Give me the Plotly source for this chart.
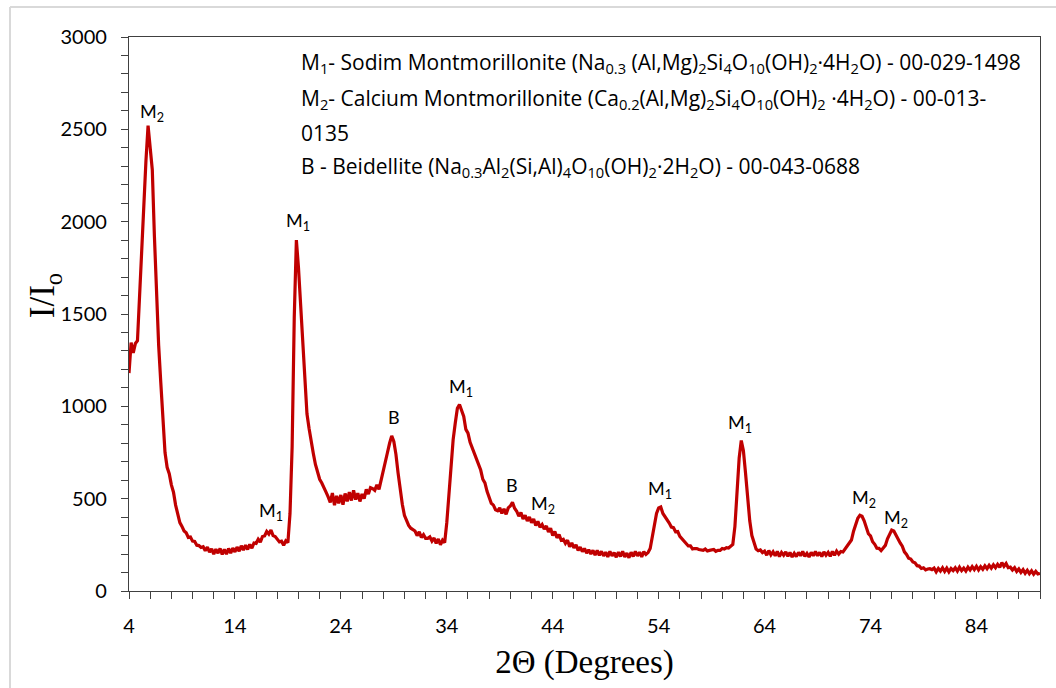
import plotly.graph_objects as go

# XRD scan: 2-theta from 4.0 to 90.0 deg, step 0.2 deg
scan_start = 4.0
scan_step = 0.2
intensity = [
    # 4
    1180, 1345, 1290, 1340, 1355,
    # 5
    1620, 1880, 2080, 2330, 2520,
    # 6
    2380, 2280, 1920, 1600, 1330,
    # 7
    1130, 900, 750, 670, 635,
    # 8
    575, 535, 465, 425, 370,
    # 9
    350, 325, 315, 290, 292,
    # 10
    270, 268, 248, 246, 236,
    # 11
    240, 218, 238, 210, 228,
    # 12
    200, 226, 205, 230, 198,
    # 13
    225, 200, 230, 205, 232,
    # 14
    212, 238, 215, 245, 222,
    # 15
    248, 225, 252, 232, 260,
    # 16
    258, 280, 265, 295, 298,
    # 17
    322, 308, 330, 300, 295,
    # 18
    280, 266, 270, 248, 272,
    # 19
    262, 420, 780, 1480, 1900,
    # 20
    1750, 1560, 1300, 1110, 960,
    # 21
    880, 800, 745, 685, 645,
    # 22
    605, 585, 555, 535, 510,
    # 23
    480, 530, 465, 515, 475,
    # 24
    520, 468, 528, 485, 535,
    # 25
    490, 545, 495, 530, 485,
    # 26
    525, 500, 550, 525, 560,
    # 27
    555, 545, 575, 550, 605,
    # 28
    660, 700, 750, 800, 840,
    # 29
    810, 740, 640, 550, 470,
    # 30
    410, 380, 355, 340, 330,
    # 31
    325, 300, 320, 290, 305,
    # 32
    285, 285, 293, 270, 287,
    # 33
    258, 282, 250, 275, 262,
    # 34
    370, 520, 680, 820, 910,
    # 35
    990, 1010, 975, 945, 875,
    # 36
    855, 805, 775, 740, 710,
    # 37
    675, 655, 605, 585, 540,
    # 38
    510, 475, 465, 440, 435,
    # 39
    450, 420, 445, 415, 450,
    # 40
    460, 480, 448, 432, 405,
    # 41
    425, 390, 410, 380, 400,
    # 42
    370, 390, 355, 377, 345,
    # 43
    360, 335, 352, 320, 340,
    # 44
    300, 322, 288, 305, 275,
    # 45
    280, 258, 275, 240, 260,
    # 46
    233, 250, 220, 237, 213,
    # 47
    230, 205, 223, 200, 220,
    # 48
    195, 220, 193, 215, 190,
    # 49
    210, 185, 215, 190, 207,
    # 50
    183, 210, 187, 215, 185,
    # 51
    205, 180, 210, 187, 215,
    # 52
    190, 210, 185, 213, 198,
    # 53
    208, 230, 290, 360, 420,
    # 54
    450, 455, 420, 405, 385,
    # 55
    368, 346, 343, 321, 322,
    # 56
    296, 284, 266, 259, 244,
    # 57
    244, 228, 230, 230, 225,
    # 58
    223, 220, 227, 217, 220,
    # 59
    223, 225, 215, 220, 220,
    # 60
    230, 227, 235, 233, 240,
    # 61
    252, 350, 560, 720, 815,
    # 62
    760, 640, 500, 380, 300,
    # 63
    258, 227, 218, 222, 208,
    # 64
    216, 194, 219, 196, 212,
    # 65
    191, 214, 186, 209, 194,
    # 66
    212, 188, 209, 184, 204,
    # 67
    186, 209, 191, 214, 188,
    # 68
    204, 184, 209, 191, 214,
    # 69
    191, 209, 186, 212, 194,
    # 70
    209, 188, 214, 194, 216,
    # 71
    200, 214, 211, 229, 246,
    # 72
    264, 276, 324, 356, 394,
    # 73
    410, 405, 380, 340, 310,
    # 74
    298, 267, 253, 232, 231,
    # 75
    219, 233, 247, 283, 307,
    # 76
    330, 325, 300, 280, 260,
    # 77
    243, 212, 198, 177, 173,
    # 78
    157, 153, 137, 135, 122,
    # 79
    126, 114, 119, 121, 116,
    # 80
    124, 104, 122, 108, 126,
    # 81
    106, 124, 104, 122, 111,
    # 82
    126, 108, 129, 111, 124,
    # 83
    108, 129, 114, 132, 116,
    # 84
    134, 114, 132, 118, 136,
    # 85
    121, 139, 124, 142, 126,
    # 86
    144, 128, 154, 134, 149,
    # 87
    126, 129, 114, 126, 106,
    # 88
    119, 101, 116, 96, 112,
    # 89
    94, 109, 91, 106, 92,
    # 90
    95,
]
two_theta = [scan_start + scan_step * i for i in range(len(intensity))]

# peak labels: (text, 2theta, intensity position)
peak_text = ["M<sub>2</sub>", "M<sub>1</sub>", "M<sub>1</sub>", "B", "M<sub>1</sub>", "B",
             "M<sub>2</sub>", "M<sub>1</sub>", "M<sub>1</sub>", "M<sub>2</sub>", "M<sub>2</sub>"]
peak_x = [6.2, 19.95, 17.4, 29.0, 35.3, 40.2, 43.1, 54.1, 61.7, 73.4, 76.4]
peak_y = [2590, 2000, 430, 940, 1100, 575, 470, 550, 905, 500, 390]

legend_lines = [
    "M<sub>1</sub>- Sodim Montmorillonite (Na<sub>0.3</sub> (Al,Mg)<sub>2</sub>Si<sub>4</sub>O<sub>10</sub>(OH)<sub>2</sub>·4H<sub>2</sub>O) - 00-029-1498",
    "M<sub>2</sub>- Calcium Montmorillonite (Ca<sub>0.2</sub>(Al,Mg)<sub>2</sub>Si<sub>4</sub>O<sub>10</sub>(OH)<sub>2</sub> ·4H<sub>2</sub>O) - 00-013-",
    "0135",
    "B - Beidellite (Na<sub>0.3</sub>Al<sub>2</sub>(Si,Al)<sub>4</sub>O<sub>10</sub>(OH)<sub>2</sub>·2H<sub>2</sub>O) - 00-043-0688",
]
legend_y = [2860, 2665, 2480, 2295]

fig = go.Figure()
fig.add_trace(go.Scatter(x=two_theta, y=intensity, mode="lines",
                         line=dict(color="#c00000", width=3.2), showlegend=False))

for t, x, y in zip(peak_text, peak_x, peak_y):
    fig.add_annotation(x=x, y=y, text=t, showarrow=False, xanchor="center", yanchor="middle",
                       font=dict(family="Lato, Open Sans, sans-serif", size=18, color="black"))

for t, y in zip(legend_lines, legend_y):
    fig.add_annotation(x=0.187, xref="paper", y=y, yref="y", text=t, showarrow=False,
                       xanchor="left", yanchor="middle",
                       font=dict(family="Open Sans, sans-serif", size=21, color="black"))

# y-axis title
fig.add_annotation(x=-0.092, xref="paper", y=0.5325, yref="paper", text="I/I<sub>o</sub>",
                   textangle=-90, showarrow=False, xanchor="center", yanchor="middle",
                   font=dict(family="Liberation Serif, Times New Roman, serif", size=35, color="black"))

# outer light frame
fig.add_shape(type="line", xref="paper", yref="paper", x0=-0.1306, x1=1.1, y0=1.054, y1=1.054,
              line=dict(color="#d9d9d9", width=2))
fig.add_shape(type="line", xref="paper", yref="paper", x0=-0.1306, x1=-0.1306, y0=1.054, y1=-0.3,
              line=dict(color="#d9d9d9", width=2))

axis_font = dict(family="Lato, Open Sans, sans-serif", size=20, color="black")
title_font = dict(family="Liberation Serif, Times New Roman, serif", size=33, color="black")
fig.update_xaxes(range=[4, 90], tick0=4, dtick=10, ticks="outside", ticklen=7, tickcolor="#404040",
                 showline=True, linecolor="#404040", linewidth=1.3, mirror=True, showgrid=False,
                 zeroline=False, tickfont=axis_font, ticklabelstandoff=10,
                 minor=dict(dtick=2, tick0=4, ticks="outside", ticklen=7, tickcolor="#404040"),
                 title=dict(text="2Θ (Degrees)", standoff=13, font=title_font))
fig.update_yaxes(range=[0, 3000], dtick=500, ticks="outside", ticklen=7, tickcolor="#404040",
                 showline=True, linecolor="#404040", linewidth=1.3, mirror=True, showgrid=False,
                 zeroline=False, tickfont=axis_font, ticklabelstandoff=10,
                 minor=dict(dtick=100, ticks="outside", ticklen=7, tickcolor="#404040"))

fig.update_layout(width=1056, height=688, margin=dict(l=129, r=16, t=37, b=97),
                  paper_bgcolor="white", plot_bgcolor="white")

fig.write_html("out.html")
